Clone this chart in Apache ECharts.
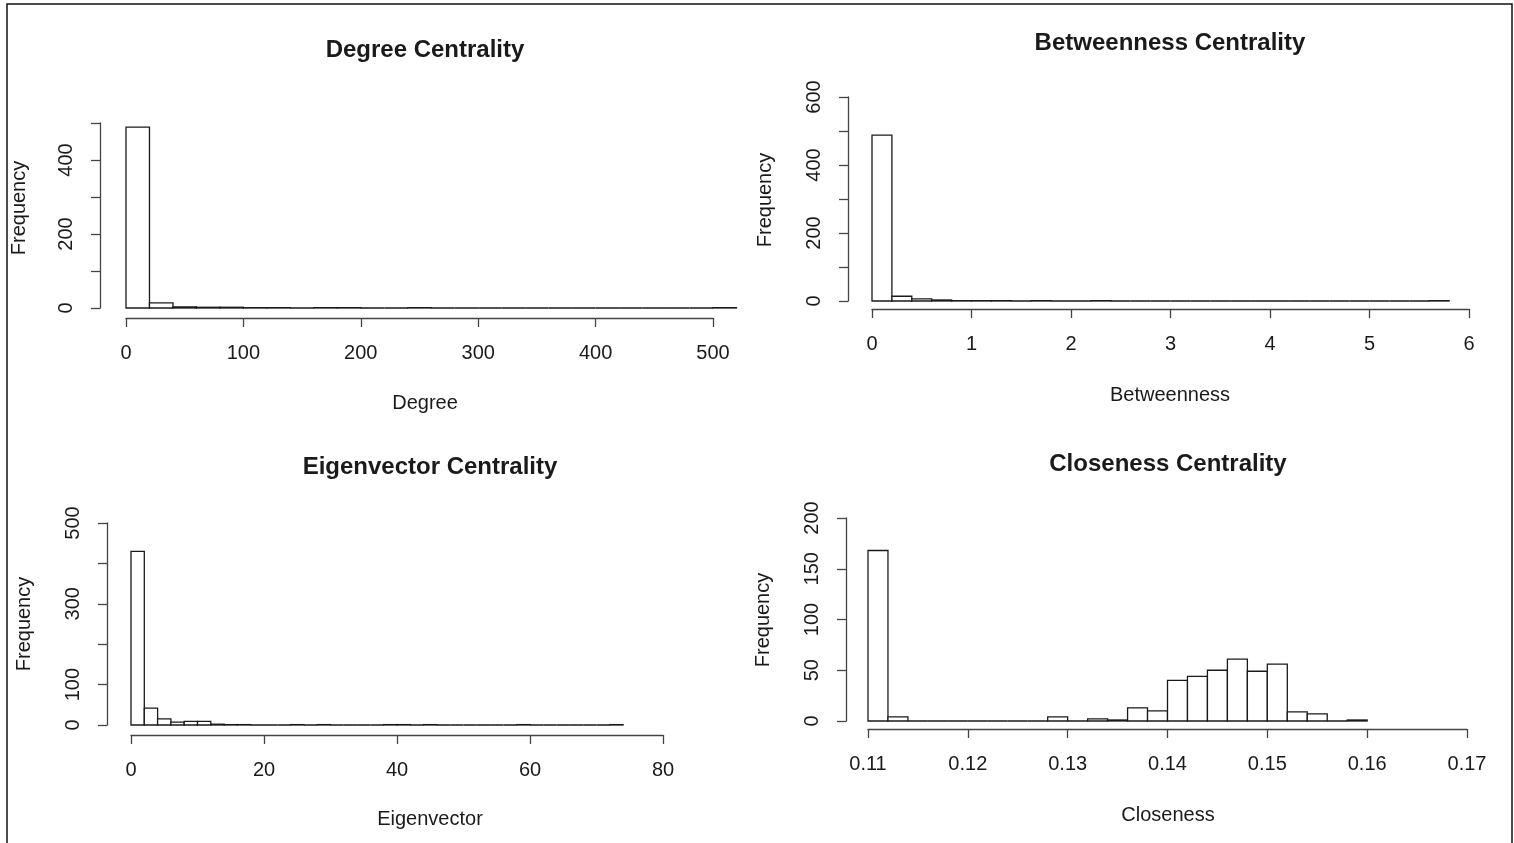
<!DOCTYPE html>
<html>
<head>
<meta charset="utf-8">
<title>Centrality Histograms</title>
<script src="https://cdn.jsdelivr.net/npm/echarts@6/dist/echarts.min.js"></script>
<style>
  html, body { margin: 0; padding: 0; background: #fff; }
  #chart { width: 1514px; height: 843px; }
</style>
</head>
<body>
<div id="chart"></div>
<script>
// ---- Histogram data: bins start at binStart, each binWidth wide ----
const degreeBinStart = 0;
const degreeBinWidth = 20;
const degreeCounts = [489, 14, 3, 2, 2, 1, 1, 0, 1, 1, 0, 0, 1, 0, 0, 0, 0, 0, 0, 0, 0, 0, 0, 0, 0, 1];
const degreeXTicks = [0, 100, 200, 300, 400, 500];
const degreeYLabels = [0, 200, 400];

const betweenBinStart = 0;
const betweenBinWidth = 0.2;
const betweenCounts = [488, 14, 6, 3, 1, 1, 1, 0, 1, 0, 0, 1, 0, 0, 0, 0, 0, 0, 0, 0, 0, 0, 0, 0, 0, 0, 0, 0, 1];
const betweenXTicks = [0, 1, 2, 3, 4, 5, 6];
const betweenYLabels = [0, 200, 400, 600];

const eigenBinStart = 0;
const eigenBinWidth = 2;
const eigenCounts = [430, 42, 15, 7, 9, 9, 2, 1, 1, 0, 0, 0, 1, 0, 1, 0, 0, 0, 0, 1, 1, 0, 1, 0, 0, 0, 0, 0, 0, 1, 0, 0, 0, 0, 0, 0, 1];
const eigenXTicks = [0, 20, 40, 60, 80];
const eigenYLabels = [0, 100, 300, 500];

const closeBinStart = 0.110;
const closeBinWidth = 0.002;
const closeCounts = [168, 4, 0, 0, 0, 0, 0, 0, 0, 4, 0, 2, 1, 13, 10, 40, 44, 50, 61, 49, 56, 9, 7, 0, 1];
const closeXTicks = [0.11, 0.12, 0.13, 0.14, 0.15, 0.16, 0.17];
const closeYLabels = [0, 50, 100, 150, 200];

const FONT = "'Liberation Sans', Arial, Helvetica, sans-serif";
const INK = '#1a1a1a';
const AXIS_INK = '#444';
const TEXT_INK = '#1a1a1a';

function bins(start, width, counts) {
  return counts.map((c, i) => [start + i * width, start + (i + 1) * width, c]);
}

function renderBar(params, api) {
  const p0 = api.coord([api.value(0), 0]);
  const p1 = api.coord([api.value(1), api.value(2)]);
  return {
    type: 'rect',
    shape: { x: p0[0], y: p1[1], width: p1[0] - p0[0], height: p0[1] - p1[1] },
    style: { fill: '#fff', stroke: INK, lineWidth: 1.3 }
  };
}

// panel layout: plot region in pixels, R-style axis offsets, text anchors
const panels = [
  { title: 'Degree Centrality', xName: 'Degree', grid: { left: 126, top: 123, width: 587, height: 185 },
    xMin: 0, xMax: 500, xInt: 100, yMax: 500, yInt: 100, yOff: 26, xOff: 10,
    ticks: degreeXTicks, yLabels: degreeYLabels, dec: 0,
    data: bins(degreeBinStart, degreeBinWidth, degreeCounts),
    titlePos: [425, 50], xNamePos: [425, 403], yNamePos: [19, 208] },
  { title: 'Betweenness Centrality', xName: 'Betweenness', grid: { left: 872, top: 97, width: 597, height: 204 },
    xMin: 0, xMax: 6, xInt: 1, yMax: 600, yInt: 100, yOff: 24, xOff: 8,
    ticks: betweenXTicks, yLabels: betweenYLabels, dec: 0,
    data: bins(betweenBinStart, betweenBinWidth, betweenCounts),
    titlePos: [1170, 43], xNamePos: [1170, 395], yNamePos: [765, 200] },
  { title: 'Eigenvector Centrality', xName: 'Eigenvector', grid: { left: 131, top: 523, width: 532, height: 202 },
    xMin: 0, xMax: 80, xInt: 20, yMax: 500, yInt: 100, yOff: 24, xOff: 10,
    ticks: eigenXTicks, yLabels: eigenYLabels, dec: 0,
    data: bins(eigenBinStart, eigenBinWidth, eigenCounts),
    titlePos: [430, 467], xNamePos: [430, 819], yNamePos: [24, 624] },
  { title: 'Closeness Centrality', xName: 'Closeness', grid: { left: 868, top: 518, width: 599, height: 203 },
    xMin: 0.11, xMax: 0.17, xInt: 0.01, yMax: 200, yInt: 50, yOff: 22, xOff: 8,
    ticks: closeXTicks, yLabels: closeYLabels, dec: 2,
    data: bins(closeBinStart, closeBinWidth, closeCounts),
    titlePos: [1168, 464], xNamePos: [1168, 815], yNamePos: [763, 620] }
];

const option = {
  backgroundColor: '#fff',
  animation: false,
  textStyle: { fontFamily: FONT },
  grid: [], xAxis: [], yAxis: [], series: [],
  graphic: []
};

function label(text, x, y, size, weight, rotation) {
  return {
    type: 'text', silent: true, x: x, y: y, rotation: rotation || 0,
    style: {
      text: text, fill: TEXT_INK, font: (weight || 'normal') + ' ' + size + 'px ' + FONT,
      align: 'center', verticalAlign: 'middle'
    }
  };
}

panels.forEach((p, i) => {
  option.grid.push(Object.assign({ containLabel: false }, p.grid));
  option.xAxis.push({
    type: 'value', gridIndex: i, min: p.xMin, max: p.xMax, interval: p.xInt,
    position: 'bottom', offset: p.xOff,
    splitLine: { show: false },
    axisLine: { show: true, onZero: false, lineStyle: { color: AXIS_INK, width: 1.3 } },
    axisTick: { show: true, length: 9, lineStyle: { color: AXIS_INK, width: 1.3 } },
    axisLabel: {
      margin: 25, fontSize: 20, color: TEXT_INK, fontFamily: FONT,
      showMinLabel: true, showMaxLabel: true,
      formatter: v => {
        const hit = p.ticks.find(t => Math.abs(t - v) < p.xInt / 100);
        return hit === undefined ? '' : hit.toFixed(p.dec);
      }
    }
  });
  option.yAxis.push({
    type: 'value', gridIndex: i, min: 0, max: p.yMax, interval: p.yInt,
    position: 'left', offset: p.yOff,
    splitLine: { show: false },
    axisLine: { show: true, onZero: false, lineStyle: { color: AXIS_INK, width: 1.3 } },
    axisTick: { show: true, length: 9, lineStyle: { color: AXIS_INK, width: 1.3 } },
    axisLabel: {
      rotate: 90, margin: 24, fontSize: 20, color: TEXT_INK, fontFamily: FONT,
      showMinLabel: true, showMaxLabel: true,
      formatter: v => (p.yLabels.indexOf(v) >= 0 ? String(v) : '')
    }
  });
  option.series.push({
    type: 'custom', xAxisIndex: i, yAxisIndex: i, clip: false,
    renderItem: renderBar, data: p.data, silent: true
  });
  option.graphic.push(label(p.title, p.titlePos[0], p.titlePos[1], 24, 'bold'));
  option.graphic.push(label(p.xName, p.xNamePos[0], p.xNamePos[1], 20));
  option.graphic.push(label('Frequency', p.yNamePos[0], p.yNamePos[1], 20, 'normal', Math.PI / 2));
});

// outer frame around the whole figure
option.graphic.push({
  type: 'rect', silent: true,
  shape: { x: 7, y: 4, width: 1505, height: 850 },
  style: { fill: 'none', stroke: '#111', lineWidth: 1.5 }
});

const chart = echarts.init(document.getElementById('chart'), null, { renderer: 'canvas' });
chart.setOption(option);
</script>
</body>
</html>
